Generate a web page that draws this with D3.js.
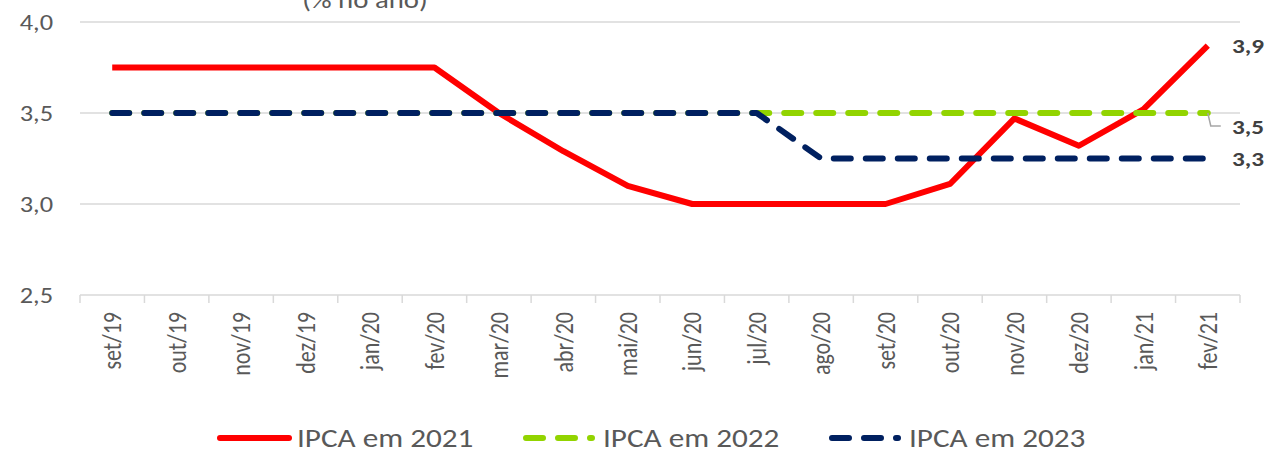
<!DOCTYPE html>
<html>
<head>
<meta charset="utf-8">
<script src="https://cdn.jsdelivr.net/npm/d3@7"></script>
<style>
  html, body { margin: 0; padding: 0; background: #fff; }
  svg { display: block; font-family: Carlito, Lato, "Open Sans", sans-serif; }
</style>
</head>
<body>
<svg id="chart" width="1269" height="453"></svg>
<script>
// Expectativas de inflação (IPCA, % no ano) por mês de coleta
const months = ["set/19","out/19","nov/19","dez/19","jan/20","fev/20","mar/20","abr/20","mai/20",
                "jun/20","jul/20","ago/20","set/20","out/20","nov/20","dez/20","jan/21","fev/21"];
const ipca2021 = [3.75,3.75,3.75,3.75,3.75,3.75,3.50,3.29,3.10,3.00,3.00,3.00,3.00,3.11,3.47,3.32,3.52,3.87];
const ipca2022 = [3.50,3.50,3.50,3.50,3.50,3.50,3.50,3.50,3.50,3.50,3.50,3.50,3.50,3.50,3.50,3.50,3.50,3.50];
const ipca2023 = [3.50,3.50,3.50,3.50,3.50,3.50,3.50,3.50,3.50,3.50,3.50,3.25,3.25,3.25,3.25,3.25,3.25,3.25];
const yTicks = [2.5, 3.0, 3.5, 4.0];
const seriesNames = ["IPCA em 2021", "IPCA em 2022", "IPCA em 2023"];
const colors = ["#ff0000", "#92d400", "#002060"];

const svg = d3.select("#chart");
const fmt = v => d3.format(".1f")(v).replace(".", ",");
// the chart's lettering is drawn slightly wide
const SX = 1.2;
const at = (px, py, extra = "") => `translate(${px},${py}) scale(${SX},1)${extra}`;

const x = d3.scaleBand().domain(months).range([80, 1240]);
const y = d3.scaleLinear().domain([2.5, 4.0]).range([295, 22]);
const cx = d => x(d) + x.bandwidth() / 2;

// horizontal gridlines
svg.append("g").selectAll("line").data(yTicks.filter(t => t > 2.5)).join("line")
  .attr("x1", 80).attr("x2", 1240)
  .attr("y1", d => y(d)).attr("y2", d => y(d))
  .attr("stroke", "#d9d9d9").attr("stroke-width", 1.5);

// y axis labels
svg.append("g").selectAll("text").data(yTicks).join("text")
  .attr("transform", d => at(53, y(d))).attr("dy", "0.35em")
  .attr("text-anchor", "end").attr("font-size", 22).attr("fill", "#595959")
  .text(fmt);

// x axis
const xAxis = svg.append("g").attr("transform", "translate(0,295)");
xAxis.append("line").attr("x1", 80).attr("x2", 1240)
  .attr("stroke", "#d9d9d9").attr("stroke-width", 1.5);
xAxis.selectAll("line.tick").data(months.concat([null])).join("line").attr("class", "tick")
  .attr("x1", (d, i) => 80 + i * x.step()).attr("x2", (d, i) => 80 + i * x.step())
  .attr("y1", 0).attr("y2", 8)
  .attr("stroke", "#d9d9d9").attr("stroke-width", 1.5);
xAxis.selectAll("text").data(months).join("text")
  .attr("transform", d => at(cx(d), 17, " rotate(-90)"))
  .attr("text-anchor", "end").attr("dy", "0.35em")
  .attr("font-size", 22).attr("fill", "#595959")
  .text(d => d);

// title (partially above the frame)
svg.append("text").attr("transform", at(365, 8)).attr("text-anchor", "middle")
  .attr("font-size", 24).attr("fill", "#595959").text("(% no ano)");

// series lines
const line = d3.line().x((d, i) => cx(months[i])).y(d => y(d));
const series = [ipca2021, ipca2022, ipca2023];
series.forEach((s, k) => {
  const p = svg.append("path").datum(s)
    .attr("d", line).attr("fill", "none")
    .attr("stroke", colors[k]).attr("stroke-width", 6)
    .attr("stroke-linejoin", "round");
  if (k > 0) p.attr("stroke-dasharray", "17,15").attr("stroke-linecap", "round");
});

// end-of-line value labels
const last = months.length - 1;
const endX = cx(months[last]);
svg.append("polyline")
  .attr("points", [[endX, y(ipca2022[last])], [endX + 3, y(ipca2022[last]) + 13], [endX + 13, y(ipca2022[last]) + 13]].join(" "))
  .attr("fill", "none").attr("stroke", "#a6a6a6").attr("stroke-width", 1.5);
const endLabels = [
  { v: ipca2021[last], dy: 0 },
  { v: ipca2022[last], dy: 14 },
  { v: ipca2023[last], dy: 0 }
];
svg.append("g").selectAll("text").data(endLabels).join("text")
  .attr("transform", d => at(1232, y(d.v) + d.dy)).attr("dy", "0.35em")
  .attr("font-size", 21).attr("font-weight", "bold").attr("fill", "#404040")
  .text(d => fmt(d.v));

// legend
const legend = svg.append("g");
const legendItems = [
  { name: seriesNames[0], x0: 217, color: colors[0], dashed: false },
  { name: seriesNames[1], x0: 523, color: colors[1], dashed: true },
  { name: seriesNames[2], x0: 829, color: colors[2], dashed: true }
];
legendItems.forEach(it => {
  const l = legend.append("line")
    .attr("y1", 438).attr("y2", 438)
    .attr("stroke", it.color).attr("stroke-width", 6).attr("stroke-linecap", "round");
  if (it.dashed) l.attr("x1", it.x0 + 3).attr("x2", it.x0 + 69).attr("stroke-dasharray", "17,15");
  else l.attr("x1", it.x0 + 3).attr("x2", it.x0 + 72);
  legend.append("text").attr("transform", at(it.x0 + 80, 447))
    .attr("font-size", 26).attr("fill", "#595959").text(it.name);
});
</script>
</body>
</html>
